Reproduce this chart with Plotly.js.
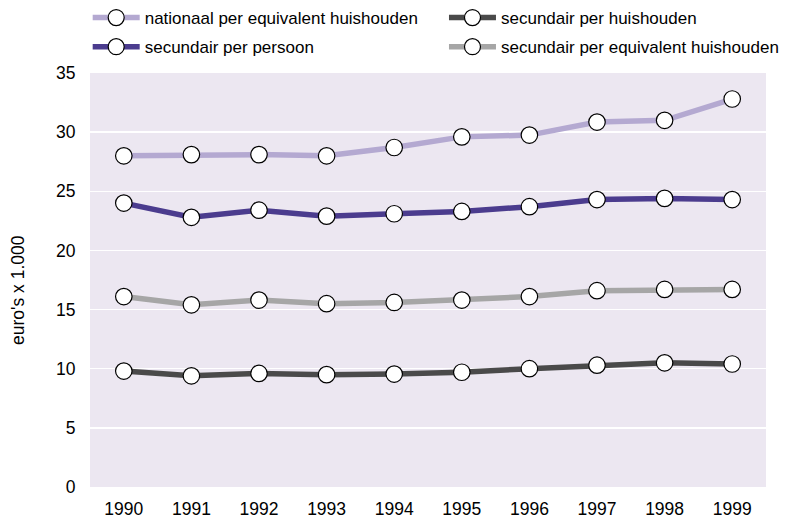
<!DOCTYPE html>
<html>
<head>
<meta charset="utf-8">
<script src="https://cdn.plot.ly/plotly-3.0.1.min.js"></script>
<style>html,body{margin:0;padding:0;background:#fff}#chart{width:790px;height:522px}</style>
</head>
<body>
<div id="chart"></div>
<script>
const years = ['1990','1991','1992','1993','1994','1995','1996','1997','1998','1999'];
const nationaalEquivalent = [28.0, 28.1, 28.1, 28.0, 28.7, 29.6, 29.75, 30.85, 31.0, 32.8];
const secundairHuishouden = [9.8, 9.4, 9.6, 9.5, 9.55, 9.7, 10.0, 10.3, 10.5, 10.4];
const secundairPersoon = [24.0, 22.8, 23.4, 22.9, 23.1, 23.3, 23.7, 24.3, 24.4, 24.3];
const secundairEquivalent = [16.1, 15.4, 15.8, 15.5, 15.6, 15.8, 16.1, 16.6, 16.7, 16.7];
const seriesNames = ['nationaal per equivalent huishouden', 'secundair per persoon', 'secundair per huishouden', 'secundair per equivalent huishouden'];
const seriesValues = [nationaalEquivalent, secundairPersoon, secundairHuishouden, secundairEquivalent];
const seriesColors = ['#b4a9d1', '#4b3c8e', '#4a4a4a', '#a6a6a6'];
const seriesLegend = ['legend', 'legend', 'legend2', 'legend2'];
const yTicks = [0, 5, 10, 15, 20, 25, 30, 35];
const yTitle = "euro's x 1.000";

const traces = seriesNames.map((name, i) => ({
  type: 'scatter', mode: 'lines+markers', name: name, legend: seriesLegend[i], legendgroup: 'g' + i,
  x: years, y: seriesValues[i],
  line: {color: seriesColors[i], width: 5.5},
  marker: {symbol: 'circle', size: 16.5, color: '#ffffff', line: {color: '#000000', width: 1.2}}
}));

const legendBase = {orientation: 'v', xref: 'container', yref: 'container', xanchor: 'left', yanchor: 'top',
  y: 1.012, itemwidth: 47, font: {size: 17}, bgcolor: 'rgba(0,0,0,0)', borderwidth: 0, tracegroupgap: 4};

const layout = {
  width: 790, height: 522,
  paper_bgcolor: '#ffffff', plot_bgcolor: '#ece7f1',
  font: {family: 'Liberation Sans, Arial, sans-serif', size: 17.5, color: '#000'},
  margin: {l: 90, r: 24, t: 73, b: 35, autoexpand: false},
  showlegend: true,
  legend: Object.assign({}, legendBase, {x: 0.111}),
  legend2: Object.assign({}, legendBase, {x: 0.562}),
  xaxis: {type: 'category', range: [-0.5, 9.5], showgrid: false, zeroline: false, showline: false,
          ticks: 'outside', ticklen: 6, tickcolor: 'rgba(0,0,0,0)', tickfont: {size: 17.5}, fixedrange: true},
  yaxis: {range: [0, 35], tickvals: yTicks, showgrid: true, gridcolor: '#ffffff', gridwidth: 1.5, zeroline: false,
          showline: false, ticks: 'outside', ticklen: 10, tickcolor: 'rgba(0,0,0,0)', tickfont: {size: 17.5}},
  annotations: [{text: yTitle, xref: 'paper', yref: 'paper', x: -0.1065, y: 0.476, textangle: -90,
                 showarrow: false, xanchor: 'center', yanchor: 'middle', font: {size: 17.5}}]
};

Plotly.newPlot('chart', traces, layout, {staticPlot: true});
</script>
</body>
</html>
